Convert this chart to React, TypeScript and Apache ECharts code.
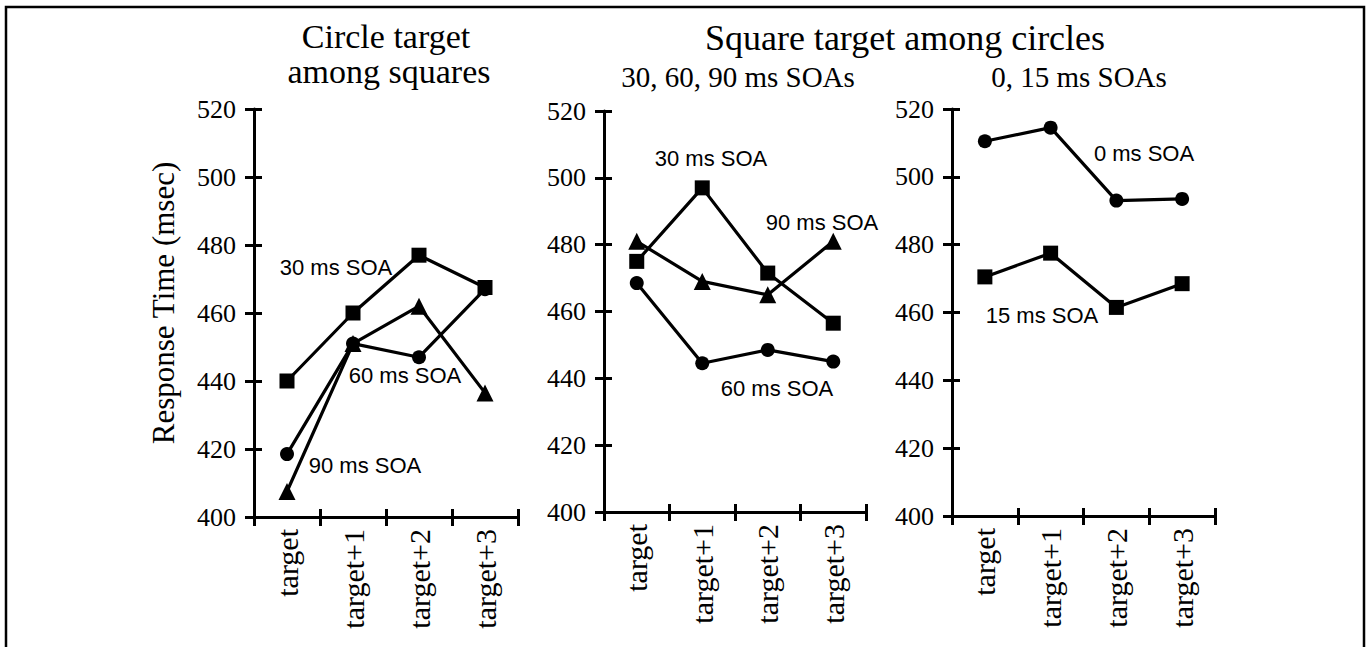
import React, { useEffect, useRef } from "react";
import * as echarts from "echarts";

// ---- data ----
const categories = ["target", "target+1", "target+2", "target+3"];
const yMin = 400;
const yMax = 520;
const yStep = 20;

// Panel 1: circle target among squares
const p1Soa30 = [440, 460, 477, 467.5];
const p1Soa60 = [418.5, 451, 447, 467];
const p1Soa90 = [407.5, 451, 462, 436.5];
// Panel 2: square target among circles, 30/60/90 ms SOAs
const p2Soa30 = [475, 497, 471.5, 456.5];
const p2Soa60 = [468.5, 444.5, 448.5, 445];
const p2Soa90 = [481, 469, 465, 481];
// Panel 3: square target among circles, 0/15 ms SOAs
const p3Soa0 = [510.5, 514.5, 493, 493.5];
const p3Soa15 = [470.5, 477.5, 461.5, 468.5];

const SERIF = "'Liberation Serif', 'Times New Roman', serif";
const SANS = "'Liberation Sans', Arial, sans-serif";

const grids = [
  { left: 254, top: 109, width: 264, height: 408 },
  { left: 604, top: 111, width: 262, height: 401 },
  { left: 952, top: 109, width: 263, height: 407 },
];

function buildAxes() {
  const xAxis: any[] = [];
  const yAxis: any[] = [];
  grids.forEach((_, g) => {
    xAxis.push({
      gridIndex: g,
      type: "category",
      position: "bottom",
      data: categories,
      boundaryGap: true,
      axisLine: { show: true, onZero: false, lineStyle: { color: "#000", width: 3 } },
      axisTick: { show: true, length: 9, lineStyle: { color: "#000", width: 3 } },
      axisLabel: {
        rotate: 90,
        margin: 12,
        color: "#000",
        fontFamily: SERIF,
        fontSize: 30,
      },
      splitLine: { show: false },
    });
    xAxis.push({
      gridIndex: g,
      type: "category",
      position: "bottom",
      data: categories,
      boundaryGap: true,
      axisLine: { show: false, onZero: false },
      axisTick: { show: true, inside: true, length: 8, lineStyle: { color: "#000", width: 3 } },
      axisLabel: { show: false },
      splitLine: { show: false },
    });
    yAxis.push({
      gridIndex: g,
      type: "value",
      position: "left",
      min: yMin,
      max: yMax,
      interval: yStep,
      axisLine: { show: true, onZero: false, lineStyle: { color: "#000", width: 3 } },
      axisTick: { show: true, length: 9, lineStyle: { color: "#000", width: 3 } },
      axisLabel: { margin: 18, color: "#000", fontFamily: SERIF, fontSize: 26 },
      splitLine: { show: false },
    });
    yAxis.push({
      gridIndex: g,
      type: "value",
      position: "left",
      min: yMin,
      max: yMax,
      interval: yStep,
      axisLine: { show: false, onZero: false },
      axisTick: { show: true, inside: true, length: 8, lineStyle: { color: "#000", width: 3 } },
      axisLabel: { show: false },
      splitLine: { show: false },
    });
  });
  return { xAxis, yAxis };
}

function lineSeries(name: string, g: number, data: number[], symbol: string, size: number) {
  return {
    name,
    type: "line",
    xAxisIndex: g * 2,
    yAxisIndex: g * 2,
    data,
    symbol,
    symbolSize: size,
    showSymbol: true,
    itemStyle: { color: "#000", borderWidth: 0 },
    lineStyle: { color: "#000", width: 3.2 },
    emphasis: { disabled: true },
  };
}

function txt(text: string, x: number, y: number, font: string, rotation = 0) {
  return {
    type: "text",
    x,
    y,
    rotation,
    style: { text, font, fill: "#000", align: "center", verticalAlign: "middle" },
    silent: true,
  };
}

export default function App() {
  const ref = useRef<HTMLDivElement>(null);
  useEffect(() => {
    if (!ref.current) return;
    const chart = echarts.init(ref.current, undefined, { renderer: "svg" });
    const { xAxis, yAxis } = buildAxes();
    chart.setOption({
      animation: false,
      backgroundColor: "#fff",
      grid: grids.map((g) => ({ ...g, containLabel: false })),
      xAxis,
      yAxis,
      series: [
        lineSeries("30 ms SOA", 0, p1Soa30, "rect", 15),
        lineSeries("60 ms SOA", 0, p1Soa60, "circle", 14),
        lineSeries("90 ms SOA", 0, p1Soa90, "triangle", 17),
        lineSeries("30 ms SOA", 1, p2Soa30, "rect", 15),
        lineSeries("60 ms SOA", 1, p2Soa60, "circle", 14),
        lineSeries("90 ms SOA", 1, p2Soa90, "triangle", 17),
        lineSeries("0 ms SOA", 2, p3Soa0, "circle", 14),
        lineSeries("15 ms SOA", 2, p3Soa15, "rect", 15),
      ],
      graphic: [
        {
          type: "rect",
          shape: { x: 6, y: 7, width: 1358, height: 700 },
          style: { fill: "none", stroke: "#000", lineWidth: 2.5 },
          silent: true,
        },
        txt("Circle target", 386, 36, `34px ${SERIF}`),
        txt("among squares", 389, 71, `34px ${SERIF}`),
        txt("Square target among circles", 905, 38, `36px ${SERIF}`),
        txt("30, 60, 90 ms SOAs", 738, 77, `29px ${SERIF}`),
        txt("0, 15 ms SOAs", 1079, 77, `29px ${SERIF}`),
        txt("Response Time (msec)", 163, 303, `31px ${SERIF}`, Math.PI / 2),
        txt("30 ms SOA", 336, 267, `22px ${SANS}`),
        txt("60 ms SOA", 405, 375, `22px ${SANS}`),
        txt("90 ms SOA", 365, 465, `22px ${SANS}`),
        txt("30 ms SOA", 711, 158, `22px ${SANS}`),
        txt("90 ms SOA", 822, 222, `22px ${SANS}`),
        txt("60 ms SOA", 777, 388, `22px ${SANS}`),
        txt("0 ms SOA", 1144, 153, `22px ${SANS}`),
        txt("15 ms SOA", 1042, 315, `22px ${SANS}`),
      ],
    });
    return () => chart.dispose();
  }, []);
  return (
    <div
      ref={ref}
      style={{ position: "absolute", left: 0, top: 0, width: 1367, height: 647 }}
    />
  );
}
